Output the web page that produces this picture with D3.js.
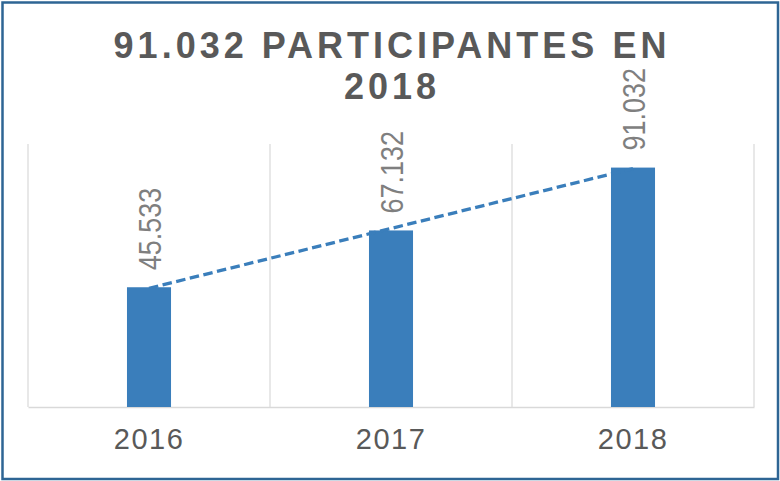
<!DOCTYPE html>
<html>
<head>
<meta charset="utf-8">
<script src="https://cdn.jsdelivr.net/npm/d3@7"></script>
<style>
  html, body { margin: 0; padding: 0; background: #fff; }
  svg { display: block; }
  text { font-family: "Liberation Sans", Arial, sans-serif; }
</style>
</head>
<body>
<svg id="chart" width="780" height="481"></svg>
<script>
const titleLines = ["91.032 PARTICIPANTES EN", "2018"];
const categories = ["2016", "2017", "2018"];
const values = [45533, 67132, 91032];
const valueLabels = ["45.533", "67.132", "91.032"];
const yDomain = [0, 100000];

const W = 780, H = 481;
const plot = { left: 28, right: 754, top: 144, bottom: 407 };

const svg = d3.select("#chart");

svg.append("rect").attr("x", 0).attr("y", 0).attr("width", W).attr("height", H).attr("fill", "#fff");
// outer border
svg.append("rect")
  .attr("x", 2.5).attr("y", 2.5).attr("width", 775.5).attr("height", 476.5)
  .attr("fill", "none").attr("stroke", "#2e6594").attr("stroke-width", 2.5);

// title
svg.append("g").selectAll("text").data(titleLines).join("text")
  .attr("x", 390 + 2)
  .attr("y", (d, i) => 58 + i * 40.5)
  .attr("text-anchor", "middle")
  .attr("font-size", 36)
  .attr("font-weight", "bold")
  .attr("letter-spacing", 4)
  .attr("fill", "#595959")
  .text(d => d);

const x = d3.scaleBand().domain(categories).range([plot.left, plot.right]).padding(0);
const y = d3.scaleLinear().domain(yDomain).range([plot.bottom, plot.top]);

// vertical gridlines at category boundaries
const bounds = categories.map(c => x(c)).concat([x(categories[categories.length - 1]) + x.bandwidth()]);
svg.append("g").selectAll("line").data(bounds).join("line")
  .attr("x1", d => d).attr("x2", d => d)
  .attr("y1", plot.top).attr("y2", plot.bottom)
  .attr("stroke", "#d9d9d9").attr("stroke-width", 1.2);

// x axis
const xAxis = svg.append("g").attr("transform", `translate(0,${plot.bottom})`)
  .call(d3.axisBottom(x).tickSize(0).tickPadding(21));
xAxis.select(".domain").attr("stroke", "#d9d9d9").attr("stroke-width", 1.6);
xAxis.selectAll("text")
  .attr("font-size", 29).attr("fill", "#595959").attr("letter-spacing", 1.5)
  .attr("font-family", "'Liberation Sans', Arial, sans-serif")
  .attr("dy", "0.71em");

// bars
const barW = x.bandwidth() * 0.182;
svg.append("g").selectAll("rect").data(values).join("rect")
  .attr("x", (d, i) => x(categories[i]) + x.bandwidth() / 2 - barW / 2)
  .attr("y", d => y(d))
  .attr("width", barW)
  .attr("height", d => y(0) - y(d))
  .attr("fill", "#3a7ebb");

// linear trendline (least squares over the series)
const xs = values.map((d, i) => i + 1);
const mx = d3.mean(xs), my = d3.mean(values);
const slope = d3.sum(xs.map((xi, i) => (xi - mx) * (values[i] - my))) / d3.sum(xs.map(xi => (xi - mx) ** 2));
const icpt = my - slope * mx;
const trend = xs.map(xi => icpt + slope * xi);
svg.append("path")
  .datum(trend)
  .attr("d", d3.line()
    .x((d, i) => x(categories[i]) + x.bandwidth() / 2)
    .y(d => y(d)))
  .attr("fill", "none")
  .attr("stroke", "#3a7ebb")
  .attr("stroke-width", 3.3)
  .attr("stroke-dasharray", "9.5,4.5");

// rotated data labels
svg.append("g").selectAll("text").data(values).join("text")
  .attr("transform", (d, i) => `translate(${x(categories[i]) + x.bandwidth() / 2 + 12},${y(d) - 17}) rotate(-90) scale(0.87,1)`)
  .attr("text-anchor", "start")
  .attr("font-size", 31)
  .attr("fill", "#7f7f7f")
  .text((d, i) => valueLabels[i]);
</script>
</body>
</html>
